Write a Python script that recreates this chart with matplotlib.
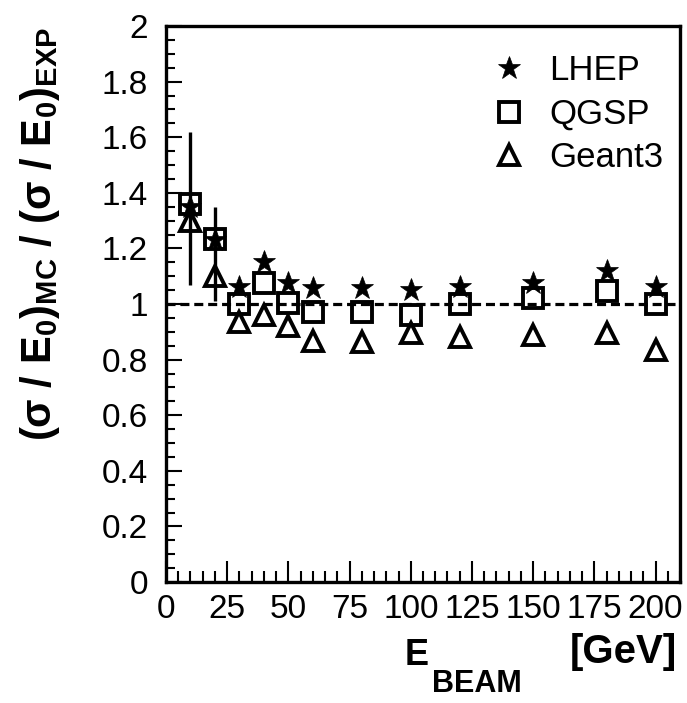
import matplotlib
matplotlib.use("Agg")
import matplotlib.pyplot as plt
from matplotlib.ticker import MultipleLocator, FixedLocator
import numpy as np

plt.rcParams['font.family'] = ['Liberation Sans', 'DejaVu Sans']
plt.rcParams['mathtext.fontset'] = 'custom'
plt.rcParams['mathtext.rm'] = 'Liberation Sans'
plt.rcParams['mathtext.bf'] = 'Liberation Sans:bold'
plt.rcParams['mathtext.it'] = 'Liberation Sans:italic'
plt.rcParams['mathtext.sf'] = 'Liberation Sans'
plt.rcParams['lines.scale_dashes'] = False

# ---- data ----
energy = [10, 20, 30, 40, 50, 60, 80, 100, 120, 150, 180, 200]
lhep   = [1.35, 1.23, 1.06, 1.15, 1.075, 1.057, 1.057, 1.05, 1.06, 1.075, 1.12, 1.06]
qgsp   = [1.36, 1.234, 1.0, 1.077, 1.005, 0.973, 0.97, 0.96, 1.0, 1.02, 1.045, 1.0]
geant3 = [1.30, 1.10, 0.937, 0.96, 0.92, 0.867, 0.863, 0.895, 0.88, 0.887, 0.894, 0.835]
err_energy = [10, 20]
err_center = [1.36, 1.234]
err_low    = [1.068, 1.01]
err_high   = [1.62, 1.35]

labels = ['LHEP', 'QGSP', 'Geant3']
xticks = [0, 25, 50, 75, 100, 125, 150, 175, 200]
yticks = [0, 0.2, 0.4, 0.6, 0.8, 1, 1.2, 1.4, 1.6, 1.8, 2]
yticklabels = ['0', '0.2', '0.4', '0.6', '0.8', '1', '1.2', '1.4', '1.6', '1.8', '2']

W, H = 687, 703
fig = plt.figure(figsize=(W / 100, H / 100), dpi=100)
L, R, B, T = 166, 680, 582, 26
ax = fig.add_axes([L / W, 1 - B / H, (R - L) / W, (B - T) / H])

ax.set_xlim(0, 210)
ax.set_ylim(0, 2)

# reference line
ax.axhline(1.0, color='black', lw=2.3, dashes=(6.5, 3.5), zorder=1)

# error bars
yerr = [np.array(err_center) - np.array(err_low), np.array(err_high) - np.array(err_center)]
ax.errorbar(err_energy, err_center, yerr=yerr, fmt='none', ecolor='black',
            elinewidth=2.4, capsize=0, zorder=2)

h_g, = ax.plot(energy, geant3, linestyle='none', marker='^', ms=15, mew=2.8,
               mfc='none', mec='black', label=labels[2], zorder=3)
h_q, = ax.plot(energy, qgsp, linestyle='none', marker='s', ms=14.5, mew=2.8,
               mfc='none', mec='black', label=labels[1], zorder=4)
h_l, = ax.plot(energy, lhep, linestyle='none', marker='*', ms=17, mew=0.5,
               mfc='black', mec='black', label=labels[0], zorder=5)

for s in ax.spines.values():
    s.set_linewidth(2.4)

ax.xaxis.set_major_locator(FixedLocator(xticks))
ax.xaxis.set_minor_locator(MultipleLocator(5))
ax.set_xticklabels([str(v) for v in xticks])
ax.yaxis.set_major_locator(FixedLocator(yticks))
ax.yaxis.set_minor_locator(MultipleLocator(0.05))
ax.set_yticklabels(yticklabels)

ax.tick_params(axis='both', which='both', direction='in', top=False, right=False,
               colors='black', width=1.5, labelsize=24)
ax.tick_params(axis='x', which='major', length=15, pad=8.5)
ax.tick_params(axis='x', which='minor', length=8)
ax.tick_params(axis='y', which='major', length=11.5, pad=13)
ax.tick_params(axis='y', which='minor', length=6.5)

# legend
leg = ax.legend(handles=[h_l, h_q, h_g], loc='upper left',
                bbox_to_anchor=(491.3 / W, 1 - 54.5 / H), bbox_transform=fig.transFigure,
                frameon=False, fontsize=25, handlelength=1.0, handletextpad=0.66,
                labelspacing=0.30, borderpad=0, borderaxespad=0, numpoints=1)

# axis titles
fig.text(40 / W, 1 - 27 / H,
         r'$\mathbf{(\sigma\ /\ E_{0})_{MC}\ /\ (\sigma\ /\ E_{0})_{EXP}}$',
         rotation=90, ha='center', va='top', fontsize=30)
fig.text(405 / W, 1 - 665 / H, 'E', fontsize=26, fontweight='bold', ha='left', va='baseline')
fig.text(432 / W, 1 - 692 / H, 'BEAM', fontsize=22, fontweight='bold', ha='left', va='baseline')
fig.text(677 / W, 1 - 663 / H, '[GeV]', fontsize=29, fontweight='bold', ha='right', va='baseline')

fig.savefig('out.png', dpi=100, facecolor='white')
